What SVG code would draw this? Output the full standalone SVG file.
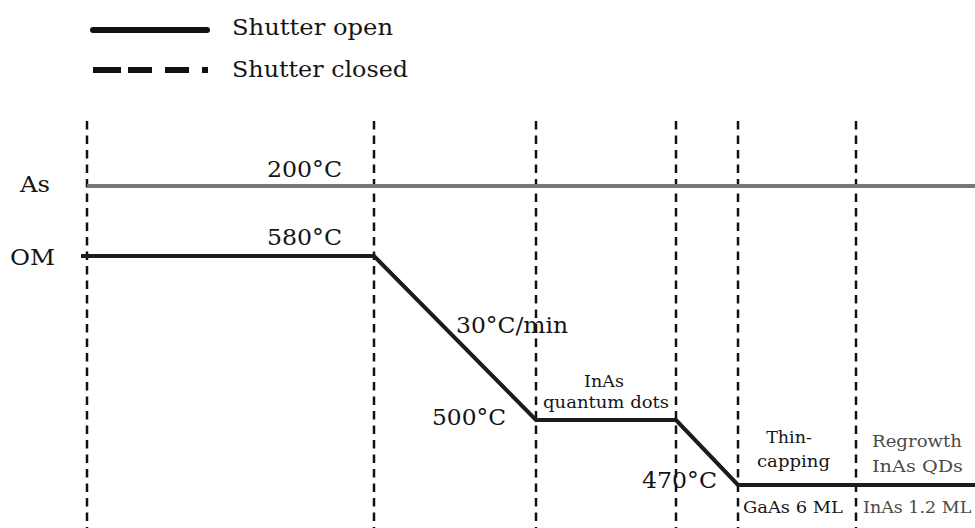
<svg xmlns="http://www.w3.org/2000/svg" width="975" height="528" viewBox="0 0 975 528">
<style>
text{font-family:"DejaVu Serif","Liberation Serif",serif;fill:#151515}
.big{font-size:23px}
.sm{font-size:17.5px}
.gr{fill:#4a4a4a}
.vd{stroke:#111;stroke-width:2.5;stroke-dasharray:8.5 6;fill:none}
.om{stroke:#1c1c1c;stroke-width:4;fill:none;stroke-linejoin:miter}
.as{stroke:#777;stroke-width:4;fill:none}
</style>
<rect width="975" height="528" fill="#fff"/>
<g id="legend">
<path d="M93 30 H207" stroke="#111" stroke-width="6" stroke-linecap="round"/>
<path d="M93 70 H121 M128 70 H152 M165 70 H189 M202 70 H208" stroke="#111" stroke-width="6"/>
<text class="big" x="232" y="35" textLength="161" lengthAdjust="spacingAndGlyphs">Shutter open</text>
<text class="big" x="232" y="77" textLength="176" lengthAdjust="spacingAndGlyphs">Shutter closed</text>
</g>
<g id="connectors">
<path class="vd" d="M87 121 V528 M374 121 V528 M536 121 V528 M676 121 V528 M738 121 V528 M856 121 V528"/>
<path id="as-line" class="as" d="M87 186 H975"/>
<path id="om-line" class="om" d="M81 256 H374 L536 420 H676 L738 485 H975"/>
</g>
<g id="row-labels">
<text class="big" x="20" y="192" textLength="30" lengthAdjust="spacingAndGlyphs">As</text>
<text class="big" x="10" y="265" textLength="45" lengthAdjust="spacingAndGlyphs">OM</text>
</g>
<g id="temps">
<text class="big" x="267" y="177" textLength="75" lengthAdjust="spacingAndGlyphs">200°C</text>
<text class="big" x="267" y="245" textLength="75" lengthAdjust="spacingAndGlyphs">580°C</text>
<text class="big" x="456" y="333" textLength="112" lengthAdjust="spacingAndGlyphs">30°C/min</text>
<text class="big" x="432" y="425" textLength="74" lengthAdjust="spacingAndGlyphs">500°C</text>
<text class="big" x="642" y="488" textLength="75" lengthAdjust="spacingAndGlyphs">470°C</text>
</g>
<g id="stage-qd">
<text class="sm" x="604" y="387" text-anchor="middle">InAs</text>
<text class="sm" x="543" y="408" textLength="126" lengthAdjust="spacingAndGlyphs">quantum dots</text>
</g>
<g id="stage-cap">
<text class="sm" x="789" y="443" text-anchor="middle">Thin-</text>
<text class="sm" x="757" y="467" textLength="73" lengthAdjust="spacingAndGlyphs">capping</text>
<text class="sm" x="743" y="513" textLength="100" lengthAdjust="spacingAndGlyphs">GaAs 6 ML</text>
</g>
<g id="stage-regrowth">
<text class="sm gr" x="872" y="447" textLength="90" lengthAdjust="spacingAndGlyphs">Regrowth</text>
<text class="sm gr" x="872" y="472" textLength="91" lengthAdjust="spacingAndGlyphs">InAs QDs</text>
<text class="sm gr" x="863" y="513">InAs 1.2 ML</text>
</g>
</svg>
